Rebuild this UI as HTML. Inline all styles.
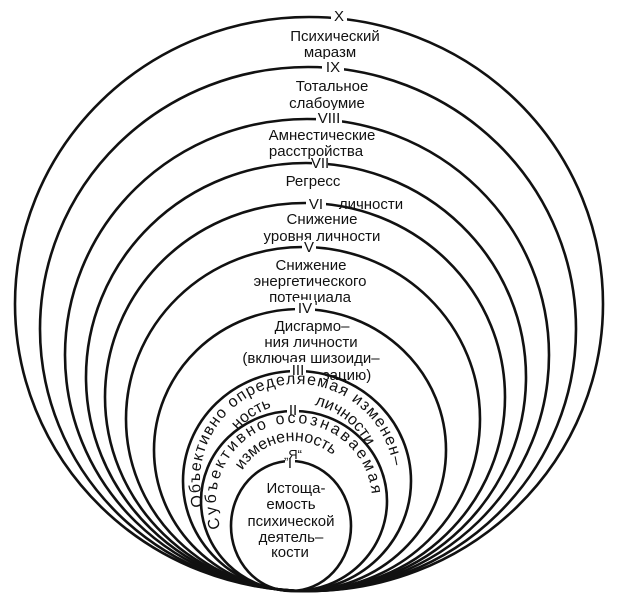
<!DOCTYPE html>
<html><head><meta charset="utf-8"><style>
html,body{margin:0;padding:0;background:#fff}
svg{display:block}
text{font-family:"Liberation Sans","DejaVu Sans",sans-serif;fill:#111;}
</style></head><body>
<svg width="625" height="600" viewBox="0 0 625 600" xmlns="http://www.w3.org/2000/svg">
<g fill="none" stroke="#111" stroke-width="2.6">
<ellipse cx="309" cy="304" rx="294" ry="287"/>
<ellipse cx="308" cy="329" rx="268" ry="262"/>
<ellipse cx="307" cy="355" rx="242" ry="236"/>
<ellipse cx="306" cy="377" rx="220" ry="214"/>
<ellipse cx="305" cy="397" rx="200" ry="194"/>
<ellipse cx="303" cy="419" rx="177" ry="172"/>
<ellipse cx="300" cy="450" rx="146" ry="141"/>
<ellipse cx="297" cy="481" rx="114" ry="110"/>
<ellipse cx="294" cy="501" rx="93" ry="90"/>
<ellipse cx="291" cy="526" rx="60" ry="65"/>
</g>
<g font-size="15" text-anchor="middle">
<rect x="331" y="9" width="16" height="14" fill="#fff"/><text x="339" y="21">X</text>
<text x="335" y="41">Психический</text><text x="330" y="57">маразм</text>
<rect x="322" y="59" width="22" height="16" fill="#fff"/><text x="333" y="72">IX</text>
<text x="332" y="91">Тотальное</text><text x="327" y="108">слабоумие</text>
<rect x="316" y="110" width="26" height="16" fill="#fff"/><text x="329" y="123">VIII</text>
<text x="322" y="140">Амнестические</text><text x="316" y="156">расстройства</text>
<rect x="312" y="156" width="16" height="14" fill="#fff"/><text x="320" y="168">VII</text>
<text x="313" y="186">Регресс</text><text x="371" y="209">личности</text>
<rect x="306" y="196" width="20" height="14" fill="#fff"/><text x="316" y="209">VI</text>
<text x="322" y="224">Снижение</text><text x="322" y="241">уровня личности</text>
<rect x="302" y="240" width="14" height="14" fill="#fff"/><text x="309" y="252">V</text>
<text x="311" y="270">Снижение</text><text x="310" y="286">энергетического</text><text x="310" y="302">потенциала</text>
<rect x="295" y="300" width="20" height="16" fill="#fff"/><text x="305" y="313">IV</text>
<text x="312" y="331">Дисгармо–</text><text x="311" y="347">ния личности</text><text x="311" y="363">(включая шизоиди–</text><text x="347" y="380">зацию)</text>
<rect x="290" y="362" width="16" height="16" fill="#fff"/><text x="298" y="375">III</text>
<rect x="287" y="404" width="12" height="14" fill="#fff"/><text x="293" y="415">II</text>
<rect x="285" y="455" width="10" height="14" fill="#fff"/><text x="290" y="468">I</text>
<text x="296" y="493">Истоща-</text><text x="291" y="509">емость</text><text x="291" y="526">психической</text><text x="291" y="542">деятель–</text><text x="290" y="557">кости</text>
<text x="293" y="459" font-size="13">„Я“</text>
</g>
<defs>
<path id="p3" d="M 203.3 506.1 A 97 97 0 1 1 392.5 497.8"/>
<path id="p3b" d="M 219 481 A 78 78 0 0 1 375 481"/>
<path id="p2" d="M 220.7 527.7 A 78 78 0 1 1 367.3 527.7"/>
<path id="p2b" d="M 234 501 A 60 60 0 0 1 354 501"/>
</defs>
<g font-size="16">
<text textLength="315" lengthAdjust="spacing"><textPath href="#p3">Объективно определяемая изменен–</textPath></text>
<text><textPath href="#p3b" startOffset="55">ность</textPath></text>
<text><textPath href="#p3b" startOffset="140">личности</textPath></text>
<text textLength="265" lengthAdjust="spacing"><textPath href="#p2">Субъективно осознаваемая</textPath></text>
<text><textPath href="#p2b" startOffset="32">измененность</textPath></text>
</g>
</svg>
</body></html>
